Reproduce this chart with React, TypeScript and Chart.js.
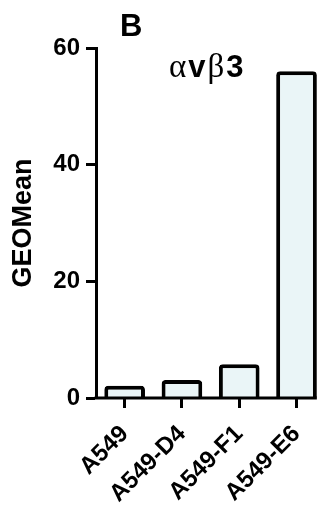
import { useEffect, useRef } from "react";
import { Chart, registerables } from "chart.js";

Chart.register(...registerables);

// Cell lines and their integrin αvβ3 geometric mean fluorescence
const categories = ["A549", "A549-D4", "A549-F1", "A549-E6"];
const geoMean = [2.1, 3.1, 5.8, 56];
const yTicks = [0, 20, 40, 60];
const yTitle = "GEOMean";
const panelLetter = "B";
// marker name: Greek letters are set in a serif face, the rest in bold sans
const markerParts = [
  { text: "α", greek: true },
  { text: "v", greek: false },
  { text: "β", greek: true },
  { text: "3", greek: false },
];

const SANS = "'Liberation Sans', Arial, sans-serif";
const SERIF = "'Liberation Serif', 'Times New Roman', serif";
const WIDTH = 329;
const HEIGHT = 510;

// Draws the panel letter, the marker name and a baseline that stops at the last bar
const panelText = {
  id: "panelText",
  afterDatasetsDraw(chart: any) {
    const { ctx, chartArea } = chart;
    const meta = chart.getDatasetMeta(0);
    const last = meta.data[meta.data.length - 1];
    ctx.save();
    ctx.strokeStyle = "#000";
    ctx.lineWidth = 3;
    ctx.beginPath();
    ctx.moveTo(chartArea.left - 1.5, chartArea.bottom);
    ctx.lineTo(last.x + last.width / 2, chartArea.bottom);
    ctx.stroke();
    ctx.restore();
  },
  afterDraw(chart: any) {
    const { ctx } = chart;
    ctx.save();
    ctx.fillStyle = "#000";
    ctx.textBaseline = "alphabetic";
    ctx.textAlign = "left";
    ctx.font = `bold 31px ${SANS}`;
    ctx.fillText(panelLetter, 120, 36);

    let x = 169;
    for (const part of markerParts) {
      ctx.font = part.greek ? `33px ${SERIF}` : `bold 31px ${SANS}`;
      ctx.fillText(part.text, x, 77);
      x += ctx.measureText(part.text).width + 2;
    }
    ctx.restore();
  },
};

export default function App() {
  const canvasRef = useRef<HTMLCanvasElement | null>(null);

  useEffect(() => {
    const canvas = canvasRef.current;
    if (!canvas) return;
    const chart = new Chart(canvas, {
      type: "bar",
      data: {
        labels: categories,
        datasets: [
          {
            data: geoMean,
            backgroundColor: "#EAF5F7",
            borderColor: "#000",
            borderWidth: 4,
            borderRadius: 4,
            borderSkipped: "start",
            categoryPercentage: 1,
            barPercentage: 0.71,
          },
        ],
      },
      options: {
        responsive: false,
        animation: false,
        devicePixelRatio: 1,
        layout: { padding: { top: 48, right: 1, left: 0, bottom: 0 } },
        plugins: {
          legend: { display: false },
          tooltip: { enabled: false },
          title: { display: false },
        },
        scales: {
          x: {
            offset: true,
            afterFit: (scale: any) => {
              scale.height = 112;
            },
            grid: {
              display: true,
              offset: false,
              drawOnChartArea: false,
              drawTicks: true,
              tickLength: 10,
              tickWidth: 3,
              tickColor: "#000",
            },
            border: { display: false },
            ticks: {
              color: "#000",
              font: { family: SANS, size: 24, weight: "bold" },
              minRotation: 45,
              maxRotation: 45,
              padding: 12,
              autoSkip: false,
            },
          },
          y: {
            min: 0,
            max: 60,
            afterFit: (scale: any) => {
              scale.width = 96;
            },
            afterBuildTicks: (scale: any) => {
              scale.ticks = yTicks.map((v) => ({ value: v }));
            },
            grid: {
              display: true,
              drawOnChartArea: false,
              drawTicks: true,
              tickLength: 10,
              tickWidth: 3,
              tickColor: "#000",
            },
            border: { display: true, width: 3, color: "#000" },
            ticks: {
              color: "#000",
              font: { family: SANS, size: 24, weight: "bold" },
              padding: 6,
            },
            title: {
              display: true,
              text: yTitle,
              color: "#000",
              font: { family: SANS, size: 27, weight: "bold" },
              padding: { top: 7, bottom: 0 },
            },
          },
        },
      },
      plugins: [panelText],
    });
    return () => chart.destroy();
  }, []);

  return (
    <div style={{ position: "absolute", left: 0, top: 0, width: WIDTH, height: HEIGHT, background: "#fff" }}>
      <canvas ref={canvasRef} width={WIDTH} height={HEIGHT} style={{ display: "block" }} />
    </div>
  );
}
